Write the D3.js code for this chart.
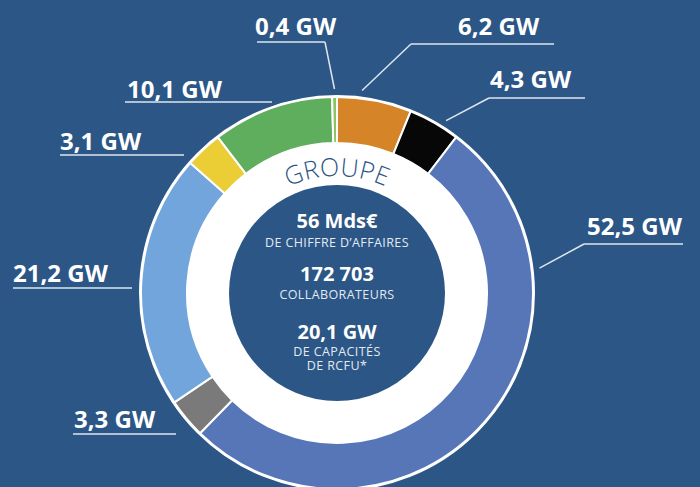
<!DOCTYPE html>
<html>
<head>
<meta charset="utf-8">
<script src="https://cdn.jsdelivr.net/npm/d3@7"></script>
<style>
  html, body { margin: 0; padding: 0; background: #2b5686; }
  svg { display: block; }
  .lbl { font-family: "Open Sans", sans-serif; font-weight: 700; fill: #fff; }
  .big { font-family: "Open Sans", sans-serif; font-weight: 700; fill: #fff; }
  .cap { font-family: "Open Sans", sans-serif; font-weight: 400; fill: #e3eaf2; }
</style>
</head>
<body>
<svg id="chart" width="700" height="487"></svg>
<script>
// slices, clockwise from 12 o'clock
const values = [6.2, 4.3, 52.5, 3.3, 21.2, 3.1, 10.1, 0.4];
const colors = ["#d58527", "#070707", "#5776b8", "#7a7a7a", "#71a5dc", "#ebcd35", "#5fae5e", "#8dc265"];

// center figures
const centerValues = ["56 Mds€", "172 703", "20,1 GW"];
const centerCaptions = [["DE CHIFFRE D’AFFAIRES"], ["COLLABORATEURS"], ["DE CAPACITÉS", "DE RCFU*"]];
const centerTitle = "GROUPE";

// label placement (text, underline, leader point as fraction of the slice)
const labelLayout = [
  {tx: 458, ty: 35,  ux0: 411, ux1: 554, uy: 44,  at: 0.32},
  {tx: 490, ty: 88,  ux0: 489, ux1: 585, uy: 98,  at: 0.67},
  {tx: 587, ty: 235, ux0: 584, ux1: 683, uy: 244, at: 0.244},
  {tx: 74,  ty: 428, ux0: 73,  ux1: 176, uy: 434},
  {tx: 13,  ty: 282, ux0: 13,  ux1: 132, uy: 288},
  {tx: 60,  ty: 150, ux0: 60,  ux1: 184, uy: 155},
  {tx: 127, ty: 98,  ux0: 125, ux1: 272, uy: 102},
  {tx: 255, ty: 35,  ux0: 257, ux1: 325, uy: 42,  at: 0.5}
];

const cx = 337, cy = 293;
const rOuter = 196, rInner = 150, rCore = 108, rLead = 204;

const fr = d3.formatLocale({decimal: ",", thousands: "\u00a0", grouping: [3], currency: ["", ""]});
const fmt = fr.format(".1f");

const svg = d3.select("#chart");
const g = svg.append("g").attr("transform", `translate(${cx},${cy})`);

const pie = d3.pie().sort(null).value(d => d).startAngle(0).endAngle(2 * Math.PI);
const arcs = pie(values);

const arc = d3.arc().innerRadius(rInner).outerRadius(rOuter);

// white ring + dark core
g.append("circle").attr("r", rInner + 1).attr("fill", "#fff");
g.append("circle").attr("r", rCore).attr("fill", "#2b5686");

g.selectAll("path.slice")
  .data(arcs)
  .enter()
  .append("path")
  .attr("class", "slice")
  .attr("d", arc)
  .attr("fill", (d, i) => colors[i])
  .attr("stroke", "#fff")
  .attr("stroke-width", 2)
  .attr("stroke-linejoin", "round");

g.append("circle")
  .attr("r", rOuter + 1)
  .attr("fill", "none")
  .attr("stroke", "#fff")
  .attr("stroke-width", 2);

// curved title
const rTitle = 117;
g.append("path")
  .attr("id", "titlePath")
  .attr("d", `M${-rTitle},0 A${rTitle},${rTitle} 0 0 1 ${rTitle},0`)
  .attr("fill", "none");
g.append("text")
  .attr("font-family", "Open Sans, sans-serif")
  .attr("font-weight", 300)
  .attr("font-size", 25)
  .attr("letter-spacing", 0.3)
  .attr("fill", "#2b5686")
  .append("textPath")
  .attr("href", "#titlePath")
  .attr("startOffset", "50%")
  .attr("text-anchor", "middle")
  .text(centerTitle);

// center block
const bigY = [228, 281, 339];
const capY = [[247], [299], [356, 370]];
centerValues.forEach((v, i) => {
  svg.append("text").attr("class", "big")
    .attr("x", cx).attr("y", bigY[i])
    .attr("text-anchor", "middle").attr("font-size", 20)
    .text(v);
  centerCaptions[i].forEach((c, j) => {
    svg.append("text").attr("class", "cap")
      .attr("x", cx).attr("y", capY[i][j])
      .attr("text-anchor", "middle").attr("font-size", 12.5)
      .attr("letter-spacing", 0.4)
      .text(c);
  });
});

// outside labels
const leadArc = d3.arc().innerRadius(rLead).outerRadius(rLead);
const labels = svg.append("g");
arcs.forEach((d, i) => {
  const L = labelLayout[i];
  labels.append("text").attr("class", "lbl")
    .attr("x", L.tx).attr("y", L.ty)
    .attr("font-size", 24)
    .text(fmt(d.data) + " GW");
  labels.append("line")
    .attr("x1", L.ux0).attr("x2", L.ux1)
    .attr("y1", L.uy).attr("y2", L.uy)
    .attr("stroke", "#dfe6ee").attr("stroke-width", 1.5);
  if (L.at !== undefined) {
    const a = d.startAngle + (d.endAngle - d.startAngle) * L.at;
    const p = leadArc.centroid({startAngle: a, endAngle: a});
    const px = cx + p[0], py = cy + p[1];
    const sx = Math.abs(px - L.ux0) < Math.abs(px - L.ux1) ? L.ux0 : L.ux1;
    labels.append("line")
      .attr("x1", sx).attr("y1", L.uy)
      .attr("x2", px).attr("y2", py)
      .attr("stroke", "#dfe6ee").attr("stroke-width", 1.5);
  }
});
</script>
</body>
</html>
